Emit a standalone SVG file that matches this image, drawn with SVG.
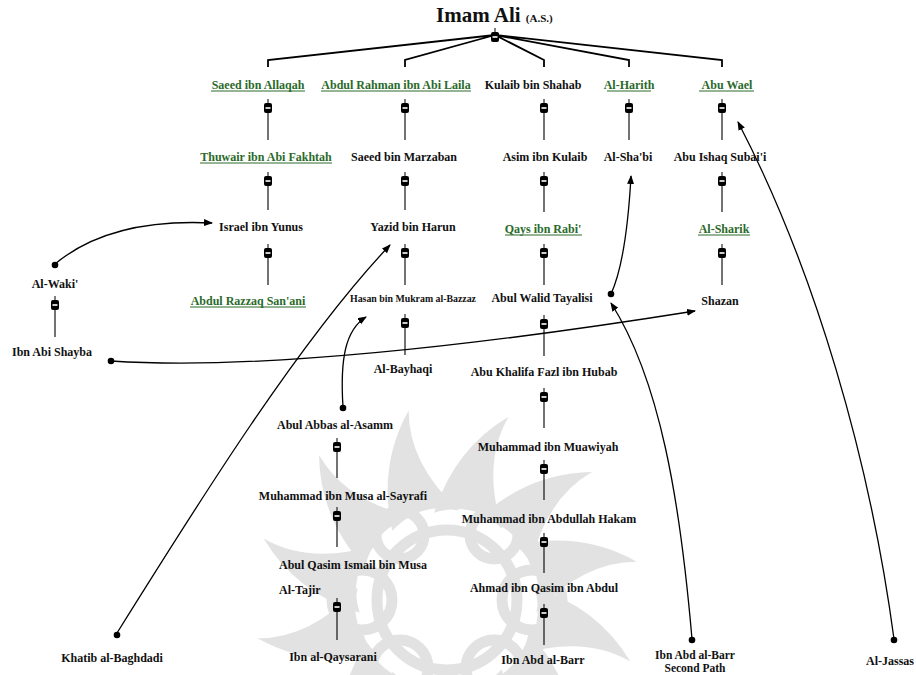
<svg xmlns="http://www.w3.org/2000/svg" width="916" height="675" viewBox="0 0 916 675">
<defs>
<marker id="arr" markerUnits="userSpaceOnUse" markerWidth="9" markerHeight="8" refX="8" refY="3.5" orient="auto"><path d="M0,0 L9,3.5 L0,7 z" fill="#000"/></marker>
<g id="tog"><line x1="0" y1="-9" x2="0" y2="-4" stroke="#000" stroke-width="1"/><rect x="-4" y="-5" width="8" height="10" rx="2" fill="#000"/><rect x="-2.5" y="-0.8" width="5" height="1.6" fill="#fff"/></g>
<path id="spike" d="M528,565 Q595,568 640,612 Q588,598 530,635 Q550,600 528,565 Z"/>
</defs>
<style>
text{font-family:"Liberation Serif","Times New Roman",serif;font-weight:bold;font-size:12px;fill:#111;text-anchor:middle}
.g{fill:#2a6a2a}
.u{stroke:#2a6a2a;stroke-width:1}
.v{stroke:#000;stroke-width:1.1;fill:none}
.c{stroke:#000;stroke-width:1.3;fill:none}
.t{stroke:#000;stroke-width:1.8;fill:none}
.d{fill:#000}
</style>
<rect width="916" height="675" fill="#fff"/>
<g id="watermark" fill="#e2e2e2">
<use href="#spike" transform="rotate(-165 447 600)"/>
<use href="#spike" transform="rotate(-135 447 600)"/>
<use href="#spike" transform="rotate(-105 447 600)"/>
<use href="#spike" transform="rotate(-75 447 600)"/>
<use href="#spike" transform="rotate(-45 447 600)"/>
<use href="#spike" transform="rotate(-15 447 600)"/>
<use href="#spike" transform="rotate(15 447 600)"/>
<use href="#spike" transform="rotate(45 447 600)"/>
<use href="#spike" transform="rotate(75 447 600)"/>
<use href="#spike" transform="rotate(105 447 600)"/>
<use href="#spike" transform="rotate(135 447 600)"/>
<use href="#spike" transform="rotate(165 447 600)"/>
<g fill="none" stroke="#e2e2e2" stroke-width="11">
<circle cx="400" cy="535" r="24"/><circle cx="494" cy="535" r="24"/>
<circle cx="362" cy="600" r="30"/><circle cx="532" cy="600" r="30"/>
<circle cx="400" cy="668" r="28"/><circle cx="494" cy="668" r="28"/>
<circle cx="447" cy="600" r="70"/>
</g>
</g>
<g id="connectors">
<path class="t" d="M495,35 L268,60 L268,67 M495,35 L405,60 L405,67 M495,35 L544,60 L544,67 M495,35 L629,60 L629,67 M495,35 L722,60 L722,67"/>
<path class="v" d="M268,113 V140 M268,186 V210 M268,258 V285 M405,113 V140 M405,186 V210 M405,258 V285 M405,328 V355 M544,113 V140 M544,186 V212 M544,258 V285 M544,329 V356 M544,402 V428 M544,474 V500 M544,547 V573 M544,618 V645 M629,113 V140 M722,113 V140 M722,186 V212 M722,258 V285 M337,452 V478 M337,521 V547 M337,612 V640 M55,310 V337"/>
<path class="c" d="M55,264 Q110,218 212,223" marker-end="url(#arr)"/>
<path class="c" d="M117,633 C200,500 300,340 390,245" marker-end="url(#arr)"/>
<path class="c" d="M111,361 C250,370 450,350 695,311" marker-end="url(#arr)"/>
<path class="c" d="M343,407 C340,360 345,330 366,317" marker-end="url(#arr)"/>
<path class="c" d="M692,639 C680,500 660,380 611,303" marker-end="url(#arr)"/>
<path class="c" d="M611,294 C622,270 628,230 631,176" marker-end="url(#arr)"/>
<path class="c" d="M894,639 C870,460 815,270 738,122" marker-end="url(#arr)"/>
<g class="d"><circle cx="55" cy="265" r="3.3"/><circle cx="117" cy="635" r="3.3"/><circle cx="111" cy="361" r="3.3"/><circle cx="343" cy="408" r="3.3"/><circle cx="692" cy="640" r="3.3"/><circle cx="611" cy="294" r="3.3"/><circle cx="894" cy="640" r="3.3"/></g>
<use href="#tog" x="495" y="37"/>
<use href="#tog" x="268" y="108"/><use href="#tog" x="268" y="181"/><use href="#tog" x="268" y="253"/>
<use href="#tog" x="405" y="108"/><use href="#tog" x="405" y="181"/><use href="#tog" x="405" y="253"/><use href="#tog" x="405" y="323"/>
<use href="#tog" x="544" y="108"/><use href="#tog" x="544" y="181"/><use href="#tog" x="544" y="253"/><use href="#tog" x="544" y="324"/><use href="#tog" x="544" y="397"/><use href="#tog" x="544" y="469"/><use href="#tog" x="544" y="542"/><use href="#tog" x="544" y="613"/>
<use href="#tog" x="629" y="108"/>
<use href="#tog" x="722" y="108"/><use href="#tog" x="722" y="181"/><use href="#tog" x="722" y="253"/>
<use href="#tog" x="337" y="447"/><use href="#tog" x="337" y="516"/><use href="#tog" x="337" y="607"/>
<use href="#tog" x="55" y="305"/>
</g>
<g id="imam-ali"><text x="436" y="22" style="text-anchor:start;font-size:21px">Imam Ali <tspan style="font-size:11px">(A.S.)</tspan></text></g>
<g id="saeed-allaqah"><text class="g" x="258" y="89">Saeed ibn Allaqah</text><line class="u" x1="211" y1="91" x2="305" y2="91"/></g>
<g id="abdul-rahman"><text class="g" x="396" y="89">Abdul Rahman ibn Abi Laila</text><line class="u" x1="321" y1="91" x2="471" y2="91"/></g>
<g id="kulaib"><text x="533" y="89">Kulaib bin Shahab</text></g>
<g id="al-harith"><text class="g" x="629" y="89">Al-Harith</text><line class="u" x1="607" y1="91" x2="651" y2="91"/></g>
<g id="abu-wael"><text class="g" x="727" y="89">Abu Wael</text><line class="u" x1="699" y1="91" x2="754" y2="91"/></g>
<g id="thuwair"><text class="g" x="266" y="161">Thuwair ibn Abi Fakhtah</text><line class="u" x1="200" y1="163" x2="332" y2="163"/></g>
<g id="saeed-marzaban"><text x="404" y="161">Saeed bin Marzaban</text></g>
<g id="asim"><text x="545" y="161">Asim ibn Kulaib</text></g>
<g id="al-shabi"><text x="628" y="161">Al-Sha'bi</text></g>
<g id="abu-ishaq"><text x="720" y="161">Abu Ishaq Subai'i</text></g>
<g id="israel"><text x="261" y="231">Israel ibn Yunus</text></g>
<g id="yazid"><text x="413" y="231">Yazid bin Harun</text></g>
<g id="qays"><text class="g" x="543" y="233">Qays ibn Rabi'</text><line class="u" x1="505" y1="235" x2="582" y2="235"/></g>
<g id="al-sharik"><text class="g" x="724" y="233">Al-Sharik</text><line class="u" x1="698" y1="235" x2="750" y2="235"/></g>
<g id="abdul-razzaq"><text class="g" x="248" y="305">Abdul Razzaq San'ani</text><line class="u" x1="190" y1="307" x2="306" y2="307"/></g>
<g id="hasan"><text x="413" y="302" style="font-size:10.5px" textLength="126" lengthAdjust="spacingAndGlyphs">Hasan bin Mukram al-Bazzaz</text></g>
<g id="abul-walid"><text x="542" y="302">Abul Walid Tayalisi</text></g>
<g id="shazan"><text x="720" y="305">Shazan</text></g>
<g id="al-waki"><text x="55" y="288">Al-Waki'</text></g>
<g id="ibn-abi-shayba"><text x="52" y="356">Ibn Abi Shayba</text></g>
<g id="al-bayhaqi"><text x="403" y="373">Al-Bayhaqi</text></g>
<g id="abu-khalifa"><text x="544" y="376">Abu Khalifa Fazl ibn Hubab</text></g>
<g id="abul-abbas"><text x="335" y="429">Abul Abbas al-Asamm</text></g>
<g id="muawiyah"><text x="548" y="451">Muhammad ibn Muawiyah</text></g>
<g id="sayrafi"><text x="343" y="500">Muhammad ibn Musa al-Sayrafi</text></g>
<g id="hakam"><text x="549" y="523">Muhammad ibn Abdullah Hakam</text></g>
<g id="abul-qasim"><text x="279" y="569" style="text-anchor:start">Abul Qasim Ismail bin Musa</text><text x="279" y="594" style="text-anchor:start">Al-Tajir</text></g>
<g id="ahmad"><text x="544" y="592">Ahmad ibn Qasim ibn Abdul</text></g>
<g id="qaysarani"><text x="333" y="661">Ibn al-Qaysarani</text></g>
<g id="khatib"><text x="112" y="662">Khatib al-Baghdadi</text></g>
<g id="ibn-abd-al-barr"><text x="543" y="664">Ibn Abd al-Barr</text></g>
<g id="ibn-abd-al-barr-2"><text x="695" y="659" style="font-size:11.5px">Ibn Abd al-Barr</text><text x="695" y="672" style="font-size:11.5px">Second Path</text></g>
<g id="al-jassas"><text x="914" y="665" style="text-anchor:end">Al-Jassas</text></g>
</svg>
